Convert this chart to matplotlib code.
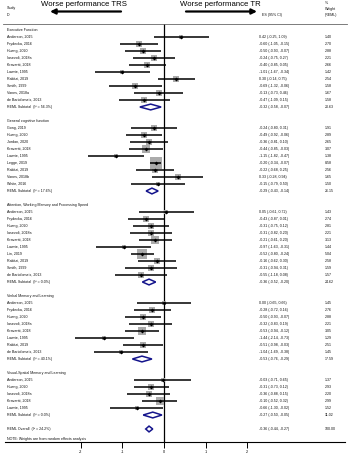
import matplotlib
matplotlib.use("Agg")
import matplotlib.pyplot as plt
from matplotlib.patches import Polygon

plt.rcParams['font.family'] = ['Liberation Sans', 'DejaVu Sans']

# ---------------- data ----------------
sections = ["Executive Function", "General cognitive function",
            "Attention, Working Memory and Processing Speed",
            "Verbal Memory and Learning", "Visual-Spatial Memory and Learning"]

exec_studies = ["Anderson, 2015", "Frydecka, 2016", "Huang, 2020", "Iasevoli, 2018a",
                "Kravariti, 2018", "Lawrie, 1995", "Rakitzi, 2019", "Smith, 1999",
                "Vanes, 2018a", "de Bartolomeis, 2013"]
exec_es = [0.42, -0.60, -0.50, -0.24, -0.40, -1.01, 0.30, -0.69, -0.13, -0.47]
exec_lo = [-0.25, -1.05, -0.93, -0.75, -0.85, -1.67, -0.14, -1.32, -0.73, -1.09]
exec_hi = [1.09, -0.15, -0.07, 0.27, 0.05, -0.34, 0.75, -0.06, 0.46, 0.15]
exec_w = [1.40, 2.70, 2.88, 2.21, 2.66, 1.42, 2.54, 1.58, 1.67, 1.58]

gen_studies = ["Gong, 2019", "Huang, 2020", "Jordan, 2020", "Kravariti, 2018",
               "Lawrie, 1995", "Legge, 2019", "Rakitzi, 2019", "Vanes, 2018b", "White, 2016"]
gen_es = [-0.24, -0.49, -0.36, -0.44, -1.15, -0.20, -0.22, 0.33, -0.15]
gen_lo = [-0.80, -0.92, -0.81, -0.85, -1.82, -0.34, -0.68, -0.28, -0.79]
gen_hi = [0.31, -0.06, 0.10, -0.03, -0.47, -0.07, 0.25, 0.94, 0.50]
gen_w = [1.91, 2.89, 2.65, 3.07, 1.38, 8.58, 2.56, 1.65, 1.50]

att_studies = ["Anderson, 2015", "Frydecka, 2016", "Huang, 2020", "Iasevoli, 2018a",
               "Kravariti, 2018", "Lawrie, 1995", "Lin, 2019", "Rakitzi, 2019",
               "Smith, 1999", "de Bartolomeis, 2013"]
att_es = [0.05, -0.43, -0.31, -0.31, -0.21, -0.97, -0.52, -0.16, -0.31, -0.55]
att_lo = [-0.61, -0.87, -0.75, -0.82, -0.61, -1.63, -0.80, -0.62, -0.94, -1.18]
att_hi = [0.72, 0.01, 0.12, 0.20, 0.20, -0.31, -0.24, 0.30, 0.31, 0.08]
att_w = [1.43, 2.74, 2.81, 2.21, 3.13, 1.44, 5.04, 2.58, 1.59, 1.57]

verb_studies = ["Anderson, 2015", "Frydecka, 2016", "Huang, 2020", "Iasevoli, 2018a",
                "Kravariti, 2018", "Lawrie, 1995", "Rakitzi, 2019", "de Bartolomeis, 2013"]
verb_es = [0.00, -0.28, -0.50, -0.32, -0.53, -1.44, -0.51, -1.04]
verb_lo = [-0.65, -0.72, -0.93, -0.83, -0.94, -2.14, -0.98, -1.69]
verb_hi = [0.66, 0.16, -0.07, 0.19, -0.12, -0.73, -0.03, -0.38]
verb_w = [1.45, 2.76, 2.88, 2.21, 3.05, 1.29, 2.51, 1.45]

vis_studies = ["Anderson, 2015", "Huang, 2020", "Iasevoli, 2018a", "Kravariti, 2018", "Lawrie, 1995"]
vis_es = [-0.03, -0.31, -0.36, -0.10, -0.66]
vis_lo = [-0.71, -0.73, -0.88, -0.52, -1.30]
vis_hi = [0.65, 0.12, 0.15, 0.32, -0.02]
vis_w = [1.37, 2.93, 2.20, 2.99, 1.52]

sub_i2 = ["56.3%", "17.6%", "0.0%", "40.1%", "0.0%"]
sub_es = [-0.32, -0.29, -0.36, -0.53, -0.27]
sub_lo = [-0.58, -0.43, -0.52, -0.76, -0.50]
sub_hi = [-0.07, -0.14, -0.20, -0.29, -0.05]
sub_w = [20.63, 26.15, 24.62, 17.59, 11.02]

overall_i2 = "24.2%"
overall_es, overall_lo, overall_hi, overall_w = -0.36, -0.44, -0.27, 100.00

xticks = [-2, -1, 0, 1, 2]

# ---------------- layout ----------------
W, H = 350, 454
PX0, PXU = 164.0, 41.6          # pixel of x=0, pixels per unit


def dx(px):
    return (px - PX0) / PXU


TOP, BOT = 24.0, 442.0
fig = plt.figure(figsize=(W / 100, H / 100), dpi=100)
ax = fig.add_axes([0, (H - BOT) / H, 1, (BOT - TOP) / H])
ax.set_xlim(dx(0), dx(W))
ax.set_ylim(BOT, TOP)
for s in ['top', 'left', 'right']:
    ax.spines[s].set_visible(False)
ax.spines['bottom'].set_bounds(dx(5), dx(345))
ax.spines['bottom'].set_linewidth(0.8)
ax.set_yticks([])
ax.set_xticks(xticks)
ax.set_xticklabels([str(t) for t in xticks])
ax.tick_params(axis='x', length=4, width=0.7, pad=1.5, labelsize=2.7, direction='out')

FS = 2.6
TXT = '#111111'
X_LAB = dx(7)
X_ES = dx(259)
X_W = dx(325)
NAVY = '#14148c'
BOXC = '#ababab'

ax.axvline(0, color='black', lw=0.9, zorder=1)

# header
ax.plot([dx(3), dx(347)], [TOP, TOP], color='#666666', lw=0.6, clip_on=False)
ax.text(X_LAB, 7.5, "Study", fontsize=FS, va='center', ha='left', color=TXT)
ax.text(X_LAB, 15, "ID", fontsize=FS, va='center', ha='left', color=TXT)
ax.text(dx(262), 15, "ES (95% CI)", fontsize=FS, va='center', ha='left', color=TXT)
ax.text(X_W, 2.5, "%", fontsize=FS, va='center', ha='left', color=TXT)
ax.text(X_W, 9, "Weight", fontsize=FS, va='center', ha='left', color=TXT)
ax.text(X_W, 15, "(REML)", fontsize=FS, va='center', ha='left', color=TXT)
ax.text(dx(84), 4.5, "Worse performance TRS", fontsize=5.6, ha='center', va='center')
ax.text(dx(220), 4.5, "Worse performance TR", fontsize=5.6, ha='center', va='center')
ax.annotate('', xy=(dx(50), 11.5), xytext=(dx(121), 11.5), annotation_clip=False,
            arrowprops=dict(arrowstyle='-|>,head_length=0.5,head_width=0.25', lw=1.6,
                            color='black', mutation_scale=6, shrinkA=0, shrinkB=0))
ax.annotate('', xy=(dx(257), 11.5), xytext=(dx(186), 11.5), annotation_clip=False,
            arrowprops=dict(arrowstyle='-|>,head_length=0.5,head_width=0.25', lw=1.6,
                            color='black', mutation_scale=6, shrinkA=0, shrinkB=0))


def fmt(es, lo, hi):
    return f"{es:.2f} ({lo:.2f}, {hi:.2f})"


def diamond(y, es, lo, hi):
    h = 2.9
    ax.add_patch(Polygon([(lo, y), (es, y - h), (hi, y), (es, y + h)], closed=True,
                         facecolor='white', edgecolor=NAVY, lw=1.1, zorder=4))


groups = [
    (exec_studies, exec_es, exec_lo, exec_hi, exec_w),
    (gen_studies, gen_es, gen_lo, gen_hi, gen_w),
    (att_studies, att_es, att_lo, att_hi, att_w),
    (verb_studies, verb_es, verb_lo, verb_hi, verb_w),
    (vis_studies, vis_es, vis_lo, vis_hi, vis_w),
]

STEP = 7.0
y = 30.0
for gi, (names, es, lo, hi, w) in enumerate(groups):
    ax.text(X_LAB, y, sections[gi], fontsize=FS, va='center', ha='left', color=TXT)
    y += STEP
    for n, e, l, h, ww in zip(names, es, lo, hi, w):
        ax.text(X_LAB, y, n, fontsize=FS, va='center', ha='left', color=TXT)
        ax.scatter([e], [y], marker='s', s=ww * 8.5, color=BOXC, zorder=2, linewidths=0)
        ax.plot([l, h], [y, y], color='black', lw=1.1, zorder=3, solid_capstyle='butt')
        ax.plot([e], [y], marker='D', ms=2.0, color='black', zorder=4, mew=0)
        ax.text(X_ES, y, fmt(e, l, h), fontsize=FS, va='center', ha='left', color=TXT)
        ax.text(X_W, y, f"{ww:.2f}", fontsize=FS, va='center', ha='left', color=TXT)
        y += STEP
    ax.text(X_LAB, y, f"REML Subtotal  (I\u00b2 = {sub_i2[gi]})", fontsize=FS, va='center',
            ha='left', color=TXT)
    diamond(y, sub_es[gi], sub_lo[gi], sub_hi[gi])
    ax.text(X_ES, y, fmt(sub_es[gi], sub_lo[gi], sub_hi[gi]), fontsize=FS, va='center',
            ha='left', color=TXT)
    ax.text(X_W, y, f"{sub_w[gi]:.2f}", fontsize=FS, va='center', ha='left', color=TXT)
    y += 2 * STEP

ax.text(X_LAB, y, f"REML Overall  (I\u00b2 = {overall_i2})", fontsize=FS, va='center',
        ha='left', color=TXT)
diamond(y, overall_es, overall_lo, overall_hi)
ax.text(X_ES, y, fmt(overall_es, overall_lo, overall_hi), fontsize=FS, va='center',
        ha='left', color=TXT)
ax.text(X_W, y, f"{overall_w:.2f}", fontsize=FS, va='center', ha='left', color=TXT)
ax.text(X_LAB, y + 9.5, "NOTE: Weights are from random effects analysis", fontsize=FS,
        va='center', ha='left', color=TXT)

fig.savefig("out.png", dpi=100, facecolor='white')
